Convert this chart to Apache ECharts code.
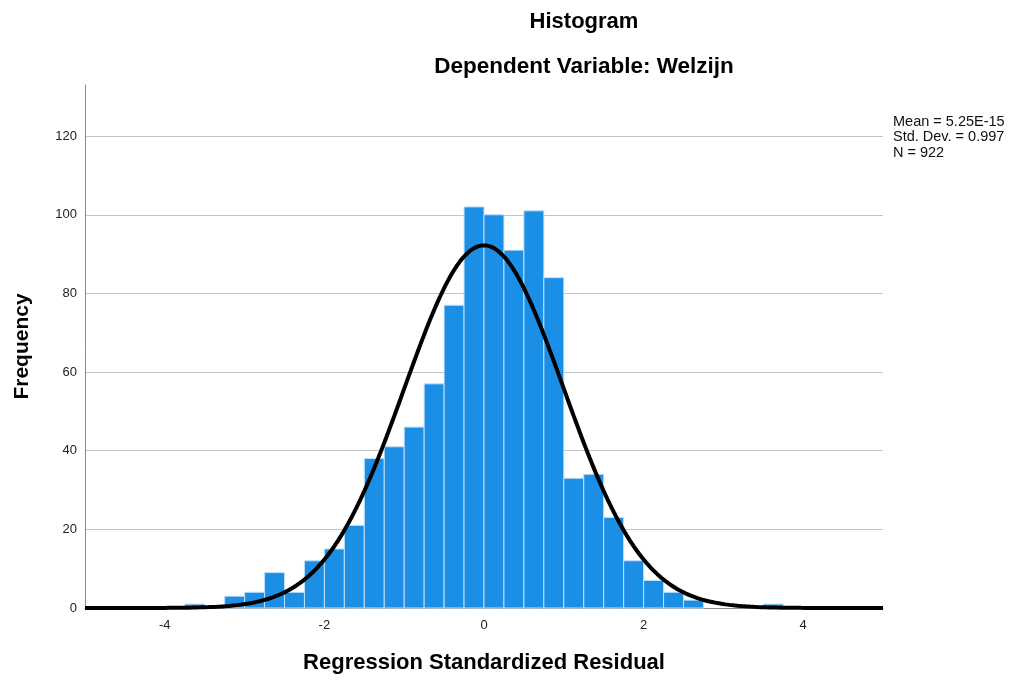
<!DOCTYPE html>
<html>
<head>
<meta charset="utf-8">
<title>Histogram - Dependent Variable: Welzijn</title>
<script src="https://cdn.jsdelivr.net/npm/echarts@6/dist/echarts.min.js"></script>
<style>
  html, body { margin: 0; padding: 0; background: #ffffff; }
  #chart { width: 1012px; height: 680px; }
</style>
</head>
<body>
<div id="chart"></div>
<script>
// Regression standardized residuals, binned at width 0.25
const binWidth = 0.25;
const binLowerEdges = [
  -3.75, -3.5, -3.25, -3.0, -2.75, -2.5, -2.25, -2.0, -1.75, -1.5, -1.25, -1.0, -0.75, -0.5, -0.25,
  0.0, 0.25, 0.5, 0.75, 1.0, 1.25, 1.5, 1.75, 2.0, 2.25, 2.5, 2.75, 3.0, 3.25, 3.5
];
const frequencies = [
  1, 0, 3, 4, 9, 4, 12, 15, 21, 38, 41, 46, 57, 77, 102,
  100, 91, 101, 84, 33, 34, 23, 12, 7, 4, 2, 0, 0, 0, 1
];

// Summary statistics shown next to the plot
const meanValue = 5.25e-15;
const stdDev = 0.997;
const nCases = 922;
const statLines = ['Mean = 5.25E-15', 'Std. Dev. = 0.997', 'N = 922'];

// Axis ticks
const xTickLabels = [-4, -2, 0, 2, 4];
const yGridValues = [20, 40, 60, 80, 100, 120];

const FONT = "'Liberation Sans', Arial, Helvetica, sans-serif";

// Histogram rectangles: [lower edge, upper edge, count]
const histData = [];
binLowerEdges.forEach(function (lo, i) {
  if (frequencies[i] > 0) histData.push([lo, lo + binWidth, frequencies[i]]);
});

// Fitted normal curve scaled to counts per bin
const curveData = [];
for (let k = 0; k <= 400; k++) {
  const x = -5 + k * 0.025;
  const z = (x - meanValue) / stdDev;
  const y = nCases * binWidth * Math.exp(-0.5 * z * z) / (stdDev * Math.sqrt(2 * Math.PI));
  curveData.push([x, y]);
}

const chart = echarts.init(document.getElementById('chart'), null, { renderer: 'canvas' });

chart.setOption({
  backgroundColor: '#ffffff',
  animation: false,
  textStyle: { fontFamily: FONT },
  grid: { left: 85, right: 129, top: 85, bottom: 72, containLabel: false },
  xAxis: {
    type: 'value',
    min: -5,
    max: 5,
    interval: 1,
    name: 'Regression Standardized Residual',
    nameLocation: 'middle',
    nameGap: 44,
    nameTextStyle: { fontFamily: FONT, fontSize: 22, fontWeight: 'bold', color: '#000000' },
    axisLine: { show: true, onZero: false, lineStyle: { color: '#8c8c8c', width: 1 } },
    axisTick: { show: false },
    splitLine: { show: false },
    axisLabel: {
      margin: 11,
      fontFamily: FONT,
      fontSize: 13,
      color: '#222222',
      showMinLabel: true,
      showMaxLabel: true,
      formatter: function (v) {
        const r = Math.round(v);
        return xTickLabels.indexOf(r) >= 0 && Math.abs(v - r) < 1e-9 ? String(r) : '';
      }
    }
  },
  yAxis: {
    type: 'value',
    min: 0,
    max: 133,
    interval: 20,
    name: 'Frequency',
    nameLocation: 'middle',
    nameGap: 52,
    nameTextStyle: { fontFamily: FONT, fontSize: 21, fontWeight: 'bold', color: '#000000' },
    axisLine: { show: true, onZero: false, lineStyle: { color: '#8c8c8c', width: 1 } },
    axisTick: { show: false },
    splitLine: { show: false },
    axisLabel: {
      margin: 8,
      fontFamily: FONT,
      fontSize: 13,
      color: '#222222',
      showMaxLabel: false
    }
  },
  series: [
    {
      // horizontal reference lines behind the bars
      type: 'line',
      z: 0,
      silent: true,
      data: [],
      showSymbol: false,
      markLine: {
        z: 0,
        silent: true,
        symbol: 'none',
        animation: false,
        label: { show: false },
        lineStyle: { color: '#c4c4c4', width: 1, type: 'solid' },
        data: yGridValues.map(function (v) { return { yAxis: v }; })
      }
    },
    {
      type: 'custom',
      z: 2,
      silent: true,
      data: histData,
      encode: { x: [0, 1], y: 2 },
      renderItem: function (params, api) {
        const topLeft = api.coord([api.value(0), api.value(2)]);
        const bottomRight = api.coord([api.value(1), 0]);
        return {
          type: 'rect',
          shape: {
            x: topLeft[0],
            y: topLeft[1],
            width: bottomRight[0] - topLeft[0],
            height: bottomRight[1] - topLeft[1]
          },
          style: { fill: '#1b8fe6', stroke: '#bfe0fa', lineWidth: 1 }
        };
      }
    },
    {
      type: 'line',
      z: 3,
      silent: true,
      data: curveData,
      showSymbol: false,
      smooth: false,
      clip: false,
      lineStyle: { color: '#000000', width: 4 }
    }
  ],
  graphic: [
    {
      type: 'text', x: 584, y: 22, silent: true,
      style: { text: 'Histogram', font: 'bold 22px ' + FONT, fill: '#000000', align: 'center', verticalAlign: 'middle' }
    },
    {
      type: 'text', x: 584, y: 67, silent: true,
      style: { text: 'Dependent Variable: Welzijn', font: 'bold 22.5px ' + FONT, fill: '#000000', align: 'center', verticalAlign: 'middle' }
    },
    {
      type: 'text', x: 893, y: 114, silent: true,
      style: { text: statLines.join('\n'), font: '14.5px ' + FONT, lineHeight: 15.5, fill: '#111111', align: 'left', verticalAlign: 'top' }
    }
  ]
});
</script>
</body>
</html>
